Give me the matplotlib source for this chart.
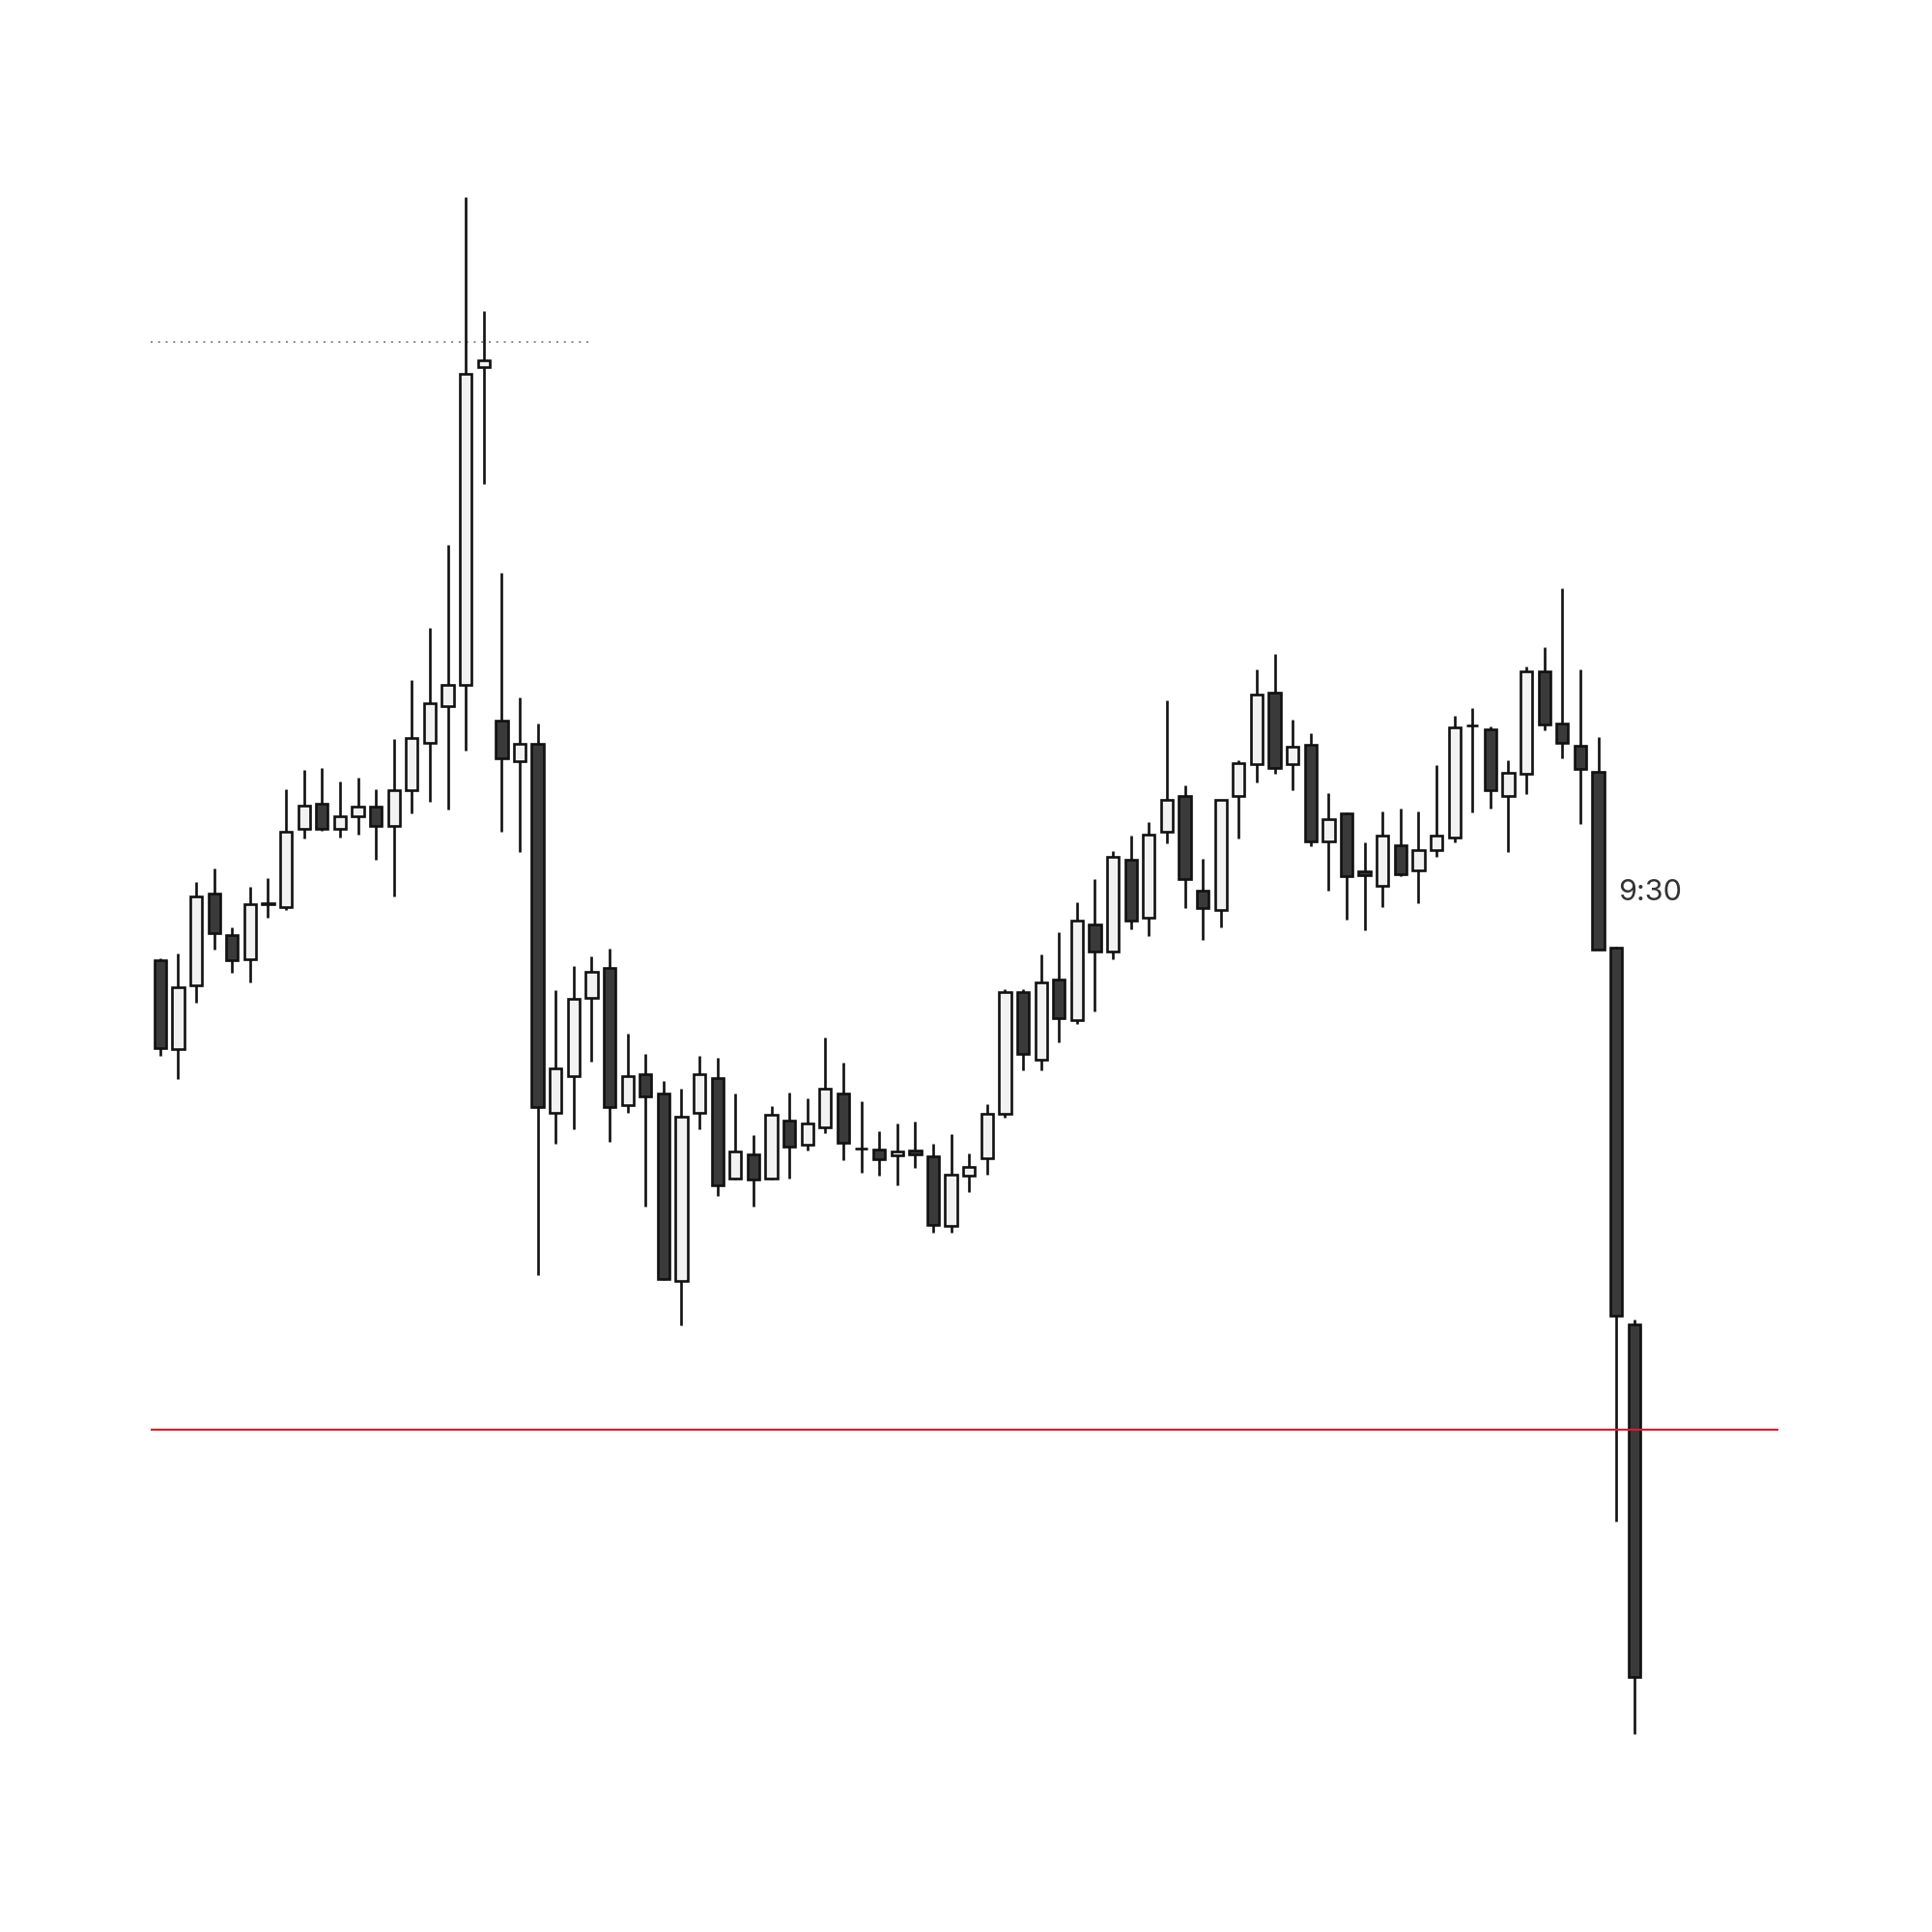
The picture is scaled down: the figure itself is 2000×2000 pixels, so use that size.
import matplotlib.pyplot as plt
import numpy as np

# candles (open, high, low, close)
opens = [4280.1, 4262.1, 4275.1, 4293.6, 4285.2, 4280.4, 4291.6, 4290.9, 4306.8, 4312.0,
         4306.8, 4309.4, 4311.3, 4307.5, 4314.7, 4324.3, 4331.7, 4336.0, 4400.4, 4328.8,
         4320.6, 4324.0, 4249.2, 4256.6, 4272.6, 4278.6, 4250.8, 4257.1, 4253.2, 4215.0,
         4249.1, 4256.2, 4235.8, 4240.8, 4235.8, 4247.7, 4242.8, 4246.3, 4253.1, 4242.0,
         4241.8, 4240.5, 4241.5, 4240.4, 4226.2, 4236.5, 4240.0, 4249.0, 4273.7, 4260.0,
         4276.3, 4268.1, 4287.5, 4281.9, 4300.6, 4288.7, 4306.2, 4313.4, 4294.3, 4290.4,
         4313.5, 4319.9, 4334.4, 4319.9, 4323.9, 4304.2, 4310.0, 4298.2, 4295.2, 4303.4,
         4298.3, 4302.5, 4305.0, 4327.7, 4327.0, 4313.5, 4318.0, 4338.7, 4328.2, 4323.6,
         4318.4, 4282.8, 4206.3]
highs = [4280.6, 4281.6, 4296.0, 4298.8, 4286.8, 4295.0, 4296.9, 4314.9, 4318.8, 4319.2,
         4316.4, 4317.3, 4314.9, 4325.0, 4337.0, 4347.6, 4364.4, 4434.9, 4411.9, 4358.8,
         4333.4, 4328.2, 4274.1, 4279.0, 4280.9, 4282.5, 4265.2, 4261.2, 4255.7, 4254.0,
         4260.8, 4260.3, 4253.1, 4244.6, 4250.5, 4253.3, 4252.2, 4264.5, 4259.4, 4251.5,
         4245.5, 4247.0, 4247.4, 4243.0, 4244.9, 4241.0, 4250.9, 4274.2, 4274.3, 4281.4,
         4285.9, 4292.0, 4296.6, 4302.3, 4305.4, 4308.1, 4332.9, 4315.7, 4300.8, 4312.7,
         4320.8, 4339.1, 4342.2, 4329.0, 4326.2, 4314.0, 4310.1, 4304.0, 4310.4, 4310.9,
         4310.4, 4319.8, 4329.7, 4331.4, 4327.5, 4320.7, 4339.8, 4343.6, 4355.7, 4339.2,
         4325.5, 4282.9, 4207.3]
lows = [4260.7, 4256.1, 4271.5, 4282.3, 4277.7, 4275.6, 4288.8, 4290.4, 4304.8, 4306.5,
        4305.1, 4305.6, 4300.5, 4293.1, 4309.9, 4312.3, 4310.8, 4322.6, 4376.8, 4306.3,
        4302.1, 4216.2, 4243.0, 4245.8, 4259.5, 4243.3, 4249.2, 4230.2, 4215.3, 4206.1,
        4245.9, 4232.3, 4235.7, 4230.2, 4235.7, 4235.8, 4241.5, 4245.0, 4239.6, 4237.0,
        4236.5, 4234.5, 4238.0, 4224.8, 4224.9, 4233.1, 4236.6, 4248.2, 4257.9, 4257.9,
        4263.5, 4267.3, 4269.8, 4280.3, 4286.5, 4285.0, 4303.8, 4290.8, 4284.2, 4286.8,
        4304.8, 4316.2, 4318.0, 4314.6, 4303.2, 4294.3, 4288.4, 4286.2, 4290.9, 4297.3,
        4291.8, 4301.2, 4304.1, 4310.2, 4310.9, 4302.2, 4313.9, 4326.8, 4321.2, 4307.8,
        4282.3, 4166.3, 4123.2]
closes = [4262.4, 4274.6, 4293.1, 4285.6, 4280.1, 4291.6, 4291.7, 4306.3, 4311.6, 4306.8,
          4309.4, 4311.3, 4307.5, 4314.7, 4325.2, 4332.2, 4336.0, 4399.2, 4401.8, 4321.2,
          4324.0, 4250.3, 4258.3, 4272.4, 4277.8, 4250.3, 4256.6, 4252.5, 4215.5, 4248.5,
          4257.1, 4234.5, 4241.4, 4235.6, 4248.9, 4242.4, 4247.0, 4254.0, 4243.1, 4241.9,
          4239.8, 4241.4, 4240.7, 4226.5, 4236.7, 4238.3, 4249.0, 4273.7, 4261.1, 4275.7,
          4268.4, 4288.2, 4282.0, 4301.1, 4288.1, 4305.6, 4312.6, 4296.6, 4290.8, 4312.6,
          4320.2, 4334.0, 4319.1, 4323.4, 4304.2, 4308.8, 4297.3, 4297.4, 4305.5, 4297.6,
          4302.6, 4305.5, 4327.4, 4327.8, 4314.7, 4318.1, 4338.7, 4327.9, 4324.2, 4318.9,
          4282.4, 4208.1, 4134.8]

level_red = 4185.0
level_dotted = 4405.5
dotted_end = 23.9
label_text = '9:30'
label_x = 81.1
label_y = 4293.8

o = np.array(opens)
h = np.array(highs)
l = np.array(lows)
c = np.array(closes)
x = np.arange(len(o))
up = c >= o

fig = plt.figure(figsize=(20, 20), dpi=100)
ax = fig.add_axes([0.0778, 0.0944, 0.8425, 0.81])

ax.vlines(x, l, h, color='#111111', linewidth=1.9, zorder=2)
ax.bar(x[up], c[up] - o[up], bottom=o[up], width=0.66, color='#f2f2f2',
       edgecolor='#111111', linewidth=1.9, zorder=3)
ax.bar(x[~up], o[~up] - c[~up], bottom=c[~up], width=0.66, color='#3a3a3a',
       edgecolor='#111111', linewidth=1.9, zorder=3)

ax.axhline(level_red, color='#e3172b', linewidth=1.5, zorder=4)
ax.hlines(level_dotted, -0.55, dotted_end, color='#888888', linewidth=1.4,
          linestyles=(0, (1, 3)), zorder=1)

ax.text(label_x, label_y, label_text, fontsize=22, color='#333333',
        family=['Inter', 'DejaVu Sans'], ha='left', va='center')

ax.set_xlim(-0.55, 90.0)
ax.set_ylim(4120.0, 4437.5)
ax.axis('off')

fig.savefig('out.png', dpi=100, facecolor='white')
